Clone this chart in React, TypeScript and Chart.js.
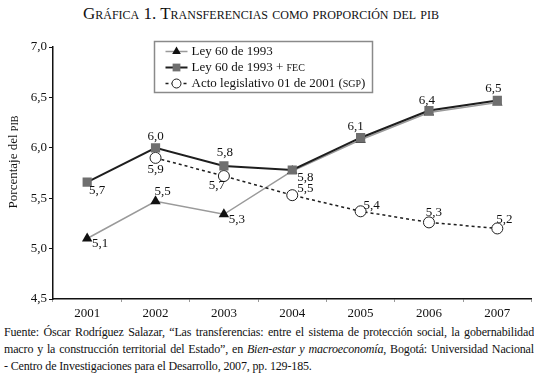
import React, { useEffect, useRef } from "react";
import { Chart, registerables } from "chart.js";
Chart.register(...registerables);

// ---- data ----
const years = ["2001", "2002", "2003", "2004", "2005", "2006", "2007"];
const ley60 = [5.1, 5.47, 5.34, 5.77, 6.08, 6.35, 6.45];
const ley60Fec = [5.66, 6.0, 5.82, 5.78, 6.1, 6.37, 6.47];
const actoSgp = [null, 5.9, 5.72, 5.53, 5.37, 5.26, 5.2];
const ley60Labels = ["5,1", "5,5", "5,3", "5,8", null, null, null];
const ley60FecLabels = ["5,7", "6,0", "5,8", null, "6,1", "6,4", "6,5"];
const actoSgpLabels = [null, "5,9", "5,7", "5,5", "5,4", "5,3", "5,2"];
const yMin = 4.5;
const yMax = 7.0;
const yStep = 0.5;

// ---- label placement (style) ----
const ley60Offsets = [[13, 5], [7, -10], [13, 5], [13, 7], [0, 0], [0, 0], [0, 0]];
const ley60FecOffsets = [[10, 9], [0, -11], [1, -13], [0, 0], [-5, -11], [-2, -10], [-4, -12]];
const actoSgpOffsets = [[0, 0], [0, 12], [-7, 10], [13, -7], [11, -6], [5, -10], [7, -9]];

const FONT = "'Liberation Serif', 'Times New Roman', serif";

const legendItems = [
  { ds: 2, parts: [["Ley 60 de 1993", false]] },
  { ds: 0, parts: [["Ley 60 de 1993 + ", false], ["FEC", true]] },
  { ds: 1, parts: [["Acto legislativo 01 de 2001 (", false], ["SGP", true], [")", false]] },
];

function drawPoint(ctx: any, style: string, r: number, x: number, y: number) {
  ctx.beginPath();
  if (style === "rect") {
    const s = r * Math.SQRT1_2;
    ctx.rect(x - s, y - s, 2 * s, 2 * s);
    ctx.fill();
  } else if (style === "triangle") {
    ctx.moveTo(x, y - r);
    ctx.lineTo(x + r * 0.866, y + r * 0.5);
    ctx.lineTo(x - r * 0.866, y + r * 0.5);
    ctx.closePath();
    ctx.fill();
  } else {
    ctx.arc(x, y, r, 0, Math.PI * 2);
    ctx.fill();
    ctx.stroke();
  }
}

const labelPlugin = {
  id: "customLabels",
  afterDatasetsDraw(chart: any) {
    const ctx = chart.ctx;
    const sets = [
      { idx: 0, labels: ley60FecLabels, offs: ley60FecOffsets },
      { idx: 1, labels: actoSgpLabels, offs: actoSgpOffsets },
      { idx: 2, labels: ley60Labels, offs: ley60Offsets },
    ];
    ctx.save();
    ctx.font = `13px ${FONT}`;
    ctx.fillStyle = "#111";
    ctx.textAlign = "center";
    ctx.textBaseline = "middle";
    sets.forEach((s) => {
      const meta = chart.getDatasetMeta(s.idx);
      meta.data.forEach((pt: any, i: number) => {
        const t = s.labels[i];
        if (!t) return;
        ctx.fillText(t, pt.x + s.offs[i][0], pt.y + s.offs[i][1]);
      });
    });
    ctx.restore();
  },
  afterDraw(chart: any) {
    const ctx = chart.ctx;
    const ca = chart.chartArea;
    // y axis title
    ctx.save();
    ctx.translate(14, ca.top + 115);
    ctx.rotate(-Math.PI / 2);
    ctx.fillStyle = "#111";
    ctx.textBaseline = "middle";
    const t1 = "Porcentaje del ";
    ctx.font = `13px ${FONT}`;
    const w1 = ctx.measureText(t1).width;
    ctx.font = `10px ${FONT}`;
    const w2 = ctx.measureText("PIB").width;
    const start = -(w1 + w2) / 2;
    ctx.font = `13px ${FONT}`;
    ctx.textAlign = "left";
    ctx.fillText(t1, start, 0);
    ctx.font = `10px ${FONT}`;
    ctx.fillText("PIB", start + w1, 1);
    ctx.restore();

    // legend
    const bx = ca.left + 101.5;
    const by = ca.top - 5.5;
    const bw = 218;
    const bh = 51;
    ctx.save();
    ctx.fillStyle = "#fff";
    ctx.fillRect(bx, by, bw, bh);
    ctx.strokeStyle = "#8a8a8a";
    ctx.lineWidth = 1.5;
    ctx.strokeRect(bx, by, bw, bh);
    legendItems.forEach((it, r) => {
      const y = by + 10 + r * 16;
      const ds = chart.data.datasets[it.ds];
      const x0 = bx + 11;
      const x1 = bx + 33;
      ctx.save();
      ctx.strokeStyle = ds.borderColor;
      ctx.lineWidth = ds.borderWidth;
      ctx.setLineDash(ds.borderDash || []);
      ctx.beginPath();
      ctx.moveTo(x0, y);
      ctx.lineTo(x1, y);
      ctx.stroke();
      ctx.restore();
      ctx.save();
      ctx.fillStyle = ds.pointBackgroundColor;
      ctx.strokeStyle = ds.pointBorderColor;
      ctx.lineWidth = ds.pointBorderWidth;
      drawPoint(ctx, ds.pointStyle, (ds.pointRadius as number) - 1, (x0 + x1) / 2, y);
      ctx.restore();
      let x = bx + 37;
      ctx.fillStyle = "#111";
      ctx.textBaseline = "middle";
      ctx.textAlign = "left";
      it.parts.forEach(([txt, small]: any) => {
        ctx.font = small ? `10px ${FONT}` : `13px ${FONT}`;
        ctx.fillText(txt, x, small ? y + 1 : y);
        x += ctx.measureText(txt).width;
      });
    });
    ctx.restore();
  },
};

export default function App() {
  const ref = useRef<HTMLCanvasElement | null>(null);
  useEffect(() => {
    if (!ref.current) return;
    const chart = new Chart(ref.current, {
      type: "line",
      data: {
        labels: years,
        datasets: [
          {
            label: "Ley 60 de 1993 + FEC",
            data: ley60Fec,
            borderColor: "#1e1e1e",
            borderWidth: 2,
            pointStyle: "rect",
            pointRadius: 6.5,
            pointBackgroundColor: "#6f6f6f",
            pointBorderColor: "#6f6f6f",
            pointBorderWidth: 0,
            order: 1,
          } as any,
          {
            label: "Acto legislativo 01 de 2001 (SGP)",
            data: actoSgp,
            borderColor: "#1e1e1e",
            borderWidth: 1.5,
            borderDash: [3, 3],
            pointStyle: "circle",
            pointRadius: 5.5,
            pointBackgroundColor: "#ffffff",
            pointBorderColor: "#1e1e1e",
            pointBorderWidth: 1,
            order: 2,
          } as any,
          {
            label: "Ley 60 de 1993",
            data: ley60,
            borderColor: "#9a9a9a",
            borderWidth: 1.5,
            pointStyle: "triangle",
            pointRadius: 6,
            pointBackgroundColor: "#111111",
            pointBorderColor: "#111111",
            pointBorderWidth: 0,
            order: 3,
          } as any,
        ],
      },
      options: {
        animation: false,
        responsive: true,
        maintainAspectRatio: false,
        layout: { padding: { top: 17, right: 5, left: 0, bottom: 0 } },
        plugins: { legend: { display: false }, tooltip: { enabled: false } },
        scales: {
          x: {
            offset: true,
            grid: {
              offset: true,
              drawOnChartArea: false,
              drawTicks: true,
              tickLength: 3,
              color: "#9a9a9a",
            },
            border: { display: true, color: "#111", width: 1.5 },
            ticks: { color: "#111", font: { family: FONT, size: 13 }, padding: 4, maxRotation: 0 },
            afterFit: (s: any) => {
              s.height = 23;
            },
          },
          y: {
            min: yMin,
            max: yMax,
            ticks: {
              stepSize: yStep,
              color: "#111",
              font: { family: FONT, size: 13 },
              padding: 2,
              callback: (v: any) => Number(v).toFixed(1).replace(".", ","),
            },
            grid: { drawOnChartArea: false, drawTicks: true, tickLength: 4, color: "#111" },
            border: { display: true, color: "#111", width: 1.5 },
            afterFit: (s: any) => {
              s.width = 53;
            },
          },
        },
      },
      plugins: [labelPlugin],
    });
    return () => chart.destroy();
  }, []);

  const lineStyle: any = { textAlign: "justify", textAlignLast: "justify", whiteSpace: "normal", height: 17, overflow: "hidden" };

  return (
    <div
      style={{
        position: "absolute",
        left: 0,
        top: 0,
        width: 538,
        height: 376,
        background: "#fff",
        fontFamily: FONT,
        color: "#111",
      }}
    >
      <div
        style={{
          position: "absolute",
          top: 4,
          left: 0,
          width: 522,
          textAlign: "center",
          fontSize: 17,
          fontVariant: "small-caps",
          lineHeight: "20px",
        }}
      >
        Gráfica 1. Transferencias como proporción del pib
      </div>
      <div style={{ position: "absolute", top: 30, left: 0, width: 538, height: 292 }}>
        <canvas ref={ref} />
      </div>
      <div
        style={{
          position: "absolute",
          top: 324,
          left: 4,
          width: 530,
          fontSize: 12,
          letterSpacing: "-0.15px",
          lineHeight: "17px",
        }}
      >
        <div style={lineStyle}>
          Fuente: Óscar Rodríguez Salazar, “Las transferencias: entre el sistema de protección social, la gobernabilidad
        </div>
        <div style={lineStyle}>
          macro y la construcción territorial del Estado”, en <i>Bien-estar y macroeconomía</i>, Bogotá: Universidad Nacional
        </div>
        <div style={{ whiteSpace: "nowrap" }}>
          - Centro de Investigaciones para el Desarrollo, 2007, pp. 129-185.
        </div>
      </div>
    </div>
  );
}
